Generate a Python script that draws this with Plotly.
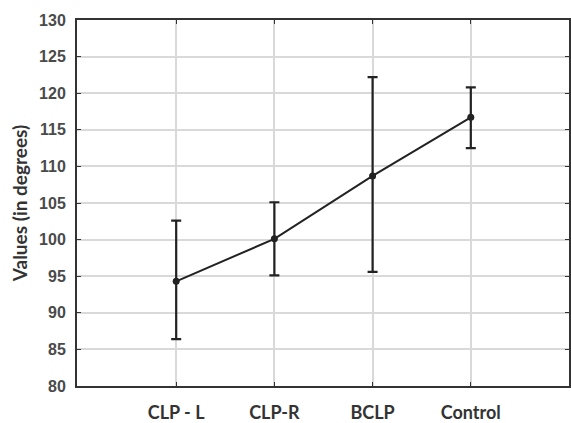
import plotly.graph_objects as go

categories = ["CLP - L", "CLP-R", "BCLP", "Control"]
means = [94.3, 100.1, 108.7, 116.7]
upper = [102.6, 105.1, 122.2, 120.8]
lower = [86.4, 95.1, 95.6, 112.5]
yticks = [80, 85, 90, 95, 100, 105, 110, 115, 120, 125, 130]

err_plus = [u - m for u, m in zip(upper, means)]
err_minus = [m - l for m, l in zip(means, lower)]
xpos = list(range(len(categories)))

fig = go.Figure()
fig.add_trace(go.Scatter(
    x=xpos, y=means, mode="lines+markers",
    line=dict(color="#222222", width=2),
    marker=dict(color="#222222", size=7, symbol="circle"),
    error_y=dict(type="data", symmetric=False, array=err_plus, arrayminus=err_minus,
                 color="#222222", thickness=2.2, width=5),
    showlegend=False,
))

fig.update_layout(
    width=571, height=423,
    margin=dict(l=77, r=2, t=20, b=37, autoexpand=False),
    plot_bgcolor="white", paper_bgcolor="white",
    font=dict(family="Liberation Sans, Arial, sans-serif", color="#333333"),
)
fig.update_xaxes(
    range=[-1.01, 4.0], tickmode="array", tickvals=xpos, ticktext=categories,
    showgrid=True, gridcolor="#d9d9d9", gridwidth=1.5,
    showline=True, linecolor="#333333", linewidth=2, mirror="ticks",
    ticks="inside", ticklen=4, tickcolor="#333333",
    tickfont=dict(family="Lato, sans-serif", size=18, color="#333333", weight="bold"),
    ticklabelstandoff=9, zeroline=False, automargin=False,
)
fig.update_yaxes(
    range=[80, 130], tickmode="array", tickvals=yticks,
    showgrid=True, gridcolor="#d9d9d9", gridwidth=1.5,
    showline=True, linecolor="#333333", linewidth=2, mirror="ticks",
    ticks="inside", ticklen=4, tickcolor="#333333",
    tickfont=dict(family="Liberation Sans, Arial, sans-serif", size=16, color="#4a4a4a", weight="bold"),
    ticklabelstandoff=6,
    title=dict(text="Values (in degrees)", standoff=6,
               font=dict(family="Lato, sans-serif", size=19, color="#333333", weight="bold")),
    zeroline=False, automargin=False,
)

fig.write_html("out.html", config={"displayModeBar": False},
               post_script="document.body.style.margin='0';document.body.style.overflow='hidden';")
